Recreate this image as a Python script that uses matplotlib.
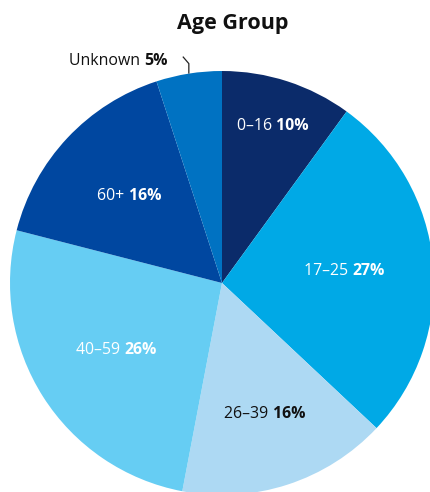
import numpy as np
import matplotlib
matplotlib.use("Agg")
import matplotlib.pyplot as plt

categories = ["0–16", "17–25", "26–39", "40–59", "60+", "Unknown"]
values = [10, 27, 16, 26, 16, 5]
pct_labels = ["10%", "27%", "16%", "26%", "16%", "5%"]
colors = ["#0B2B6A", "#00A9E6", "#ADD9F3", "#66CDF3", "#0047A0", "#0072C2"]
text_colors = ["white", "white", "#111111", "white", "white", "#111111"]
label_dist = [165, 123, 138, 125, 127, None]

plt.rcParams['font.family'] = ['Open Sans', 'DejaVu Sans']

W, H = 430, 492
fig = plt.figure(figsize=(W / 100, H / 100), dpi=100)
ax = fig.add_axes([0, 0, 1, 1])
ax.set_xlim(0, W)
ax.set_ylim(0, H)
ax.set_aspect('equal')
ax.axis('off')

cx, cy, R = 222, H - 283, 212
wedges, _ = ax.pie(values, colors=colors, startangle=90, counterclock=False,
                   center=(cx, cy), radius=R, frame=True,
                   wedgeprops=dict(linewidth=0))
ax.set_xlim(0, W)
ax.set_ylim(0, H)
ax.axis('off')

fig.canvas.draw()
renderer = fig.canvas.get_renderer()

FS = 11.4


def two_part(x, y, a, b, color, ha='center'):
    t1 = ax.text(0, 0, a + " ", fontsize=FS, color=color, va='center')
    t2 = ax.text(0, 0, b, fontsize=FS, color=color, va='center', fontweight='bold')
    w1 = t1.get_window_extent(renderer).width
    w2 = t2.get_window_extent(renderer).width
    tot = w1 + w2
    if ha == 'center':
        x0 = x - tot / 2
    elif ha == 'right':
        x0 = x - tot
    else:
        x0 = x
    t1.set_position((x0, y))
    t2.set_position((x0 + w1, y))


for i, w in enumerate(wedges):
    mid = np.deg2rad((w.theta1 + w.theta2) / 2)
    if label_dist[i] is not None:
        d = label_dist[i]
        two_part(cx + d * np.cos(mid), cy + d * np.sin(mid), categories[i], pct_labels[i], text_colors[i])
    else:
        ex, ey = cx + R * np.cos(mid), cy + R * np.sin(mid)
        ax.plot([ex, ex, ex - 6], [ey, ey + 10, ey + 17], color="#222222", lw=0.9,
                solid_capstyle='butt')
        two_part(ex - 21, ey + 13, categories[i], pct_labels[i], text_colors[i], ha='right')

ax.text(233, H - 24, "Age Group", fontsize=15.5, fontweight='bold', ha='center', va='center',
        color="#111111")

fig.savefig("out.png", dpi=100)
